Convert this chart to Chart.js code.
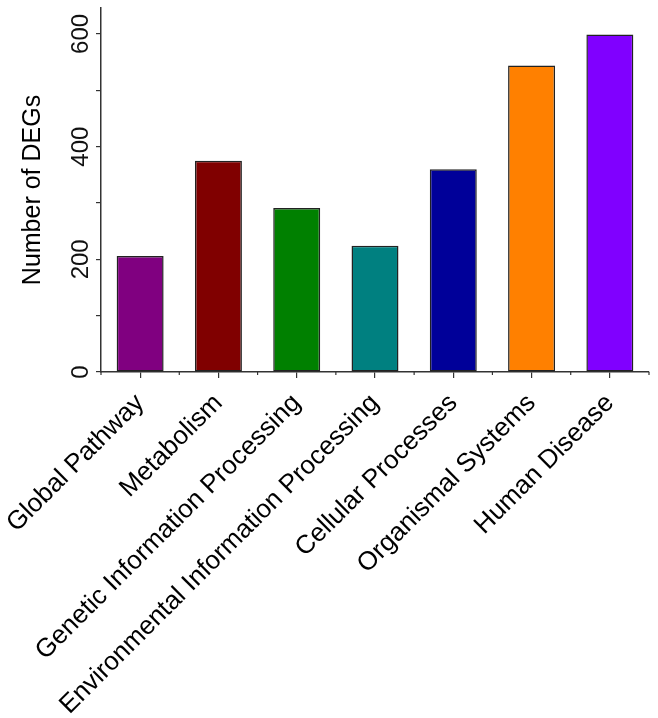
<!DOCTYPE html>
<html>
<head>
<meta charset="utf-8">
<script src="https://cdn.jsdelivr.net/npm/chart.js@4/dist/chart.umd.min.js"></script>
<style>
  html, body { margin: 0; padding: 0; background: #fff; }
  #wrap { width: 658px; height: 718px; }
</style>
</head>
<body>
<div id="wrap"><canvas id="c" width="658" height="718"></canvas></div>
<script>
const categories = [
  "Global Pathway",
  "Metabolism",
  "Genetic Information Processing",
  "Environmental Information Processing",
  "Cellular Processes",
  "Organismal Systems",
  "Human Disease"
];
const degCounts = [206, 375, 291, 224, 360, 544, 599];
const barColors = ["#800080", "#800000", "#008000", "#008080", "#000099", "#FF8000", "#8000FF"];
const yTickValues = [0, 100, 200, 300, 400, 500, 600];
const yLabelValues = [0, 200, 400, 600];
const yMax = 646;

const FONT = "'Liberation Sans', Arial, Helvetica, sans-serif";
const AXIS_COLOR = "#333333";

const minorTicks = {
  id: "minorTicks",
  afterDraw(chart) {
    const x = chart.scales.x;
    const ctx = chart.ctx;
    const n = categories.length;
    const half = (x.getPixelForValue(1) - x.getPixelForValue(0)) / 2;
    ctx.save();
    ctx.strokeStyle = AXIS_COLOR;
    ctx.lineWidth = 1.2;
    for (let i = 0; i <= n; i++) {
      const px = x.getPixelForValue(0) - half + i * 2 * half;
      ctx.beginPath();
      ctx.moveTo(px, x.top);
      ctx.lineTo(px, x.top + 3);
      ctx.stroke();
    }
    ctx.restore();
  }
};

new Chart(document.getElementById("c"), {
  type: "bar",
  data: {
    labels: categories,
    datasets: [{
      label: "Number of DEGs",
      data: degCounts,
      backgroundColor: barColors,
      borderColor: "#222222",
      borderWidth: 1.5,
      borderSkipped: false,
      categoryPercentage: 1.0,
      barPercentage: 0.6
    }]
  },
  options: {
    responsive: false,
    animation: false,
    layout: { padding: { top: 8, right: 9, left: 0, bottom: 0 } },
    plugins: { legend: { display: false }, tooltip: { enabled: false } },
    scales: {
      x: {
        grid: { display: true, drawOnChartArea: false, offset: false, tickLength: 6, color: AXIS_COLOR, lineWidth: 1.2 },
        border: { display: true, color: AXIS_COLOR, width: 1.5 },
        ticks: {
          color: "#000",
          font: { family: FONT, size: 26 },
          minRotation: 45,
          maxRotation: 45,
          autoSkip: false,
          padding: 10
        },
        afterFit(scale) {
          scale.height = 346;
          scale.paddingLeft = 0;
          scale.paddingRight = 0;
        }
      },
      y: {
        min: 0,
        max: yMax,
        afterBuildTicks(scale) { scale.ticks = yTickValues.map(v => ({ value: v })); },
        grid: { display: true, drawOnChartArea: false, tickLength: 5, color: AXIS_COLOR, lineWidth: 1.2 },
        border: { display: true, color: AXIS_COLOR, width: 1.5 },
        ticks: {
          color: "#111",
          font: { family: FONT, size: 24 },
          minRotation: 90,
          maxRotation: 90,
          crossAlign: "center",
          padding: -5,
          callback(v) { return yLabelValues.includes(v) ? String(v) : ""; }
        },
        title: {
          display: true,
          text: "Number of DEGs",
          color: "#000",
          font: { family: FONT, size: 25 },
          padding: { top: 18, bottom: 0 }
        },
        afterFit(scale) {
          scale.width = 101;
          scale.paddingTop = 0;
          scale.paddingBottom = 0;
        }
      }
    }
  },
  plugins: [minorTicks]
});
</script>
</body>
</html>
